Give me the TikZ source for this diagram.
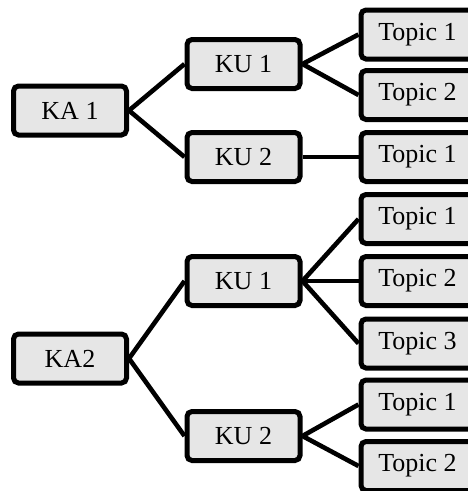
\documentclass[tikz,border=0pt]{standalone}
\usepackage{fontspec}
\setmainfont{Liberation Serif}
\definecolor{boxfill}{HTML}{E6E6E6}
\tikzset{
  box/.style={draw=black, fill=boxfill, line width=5pt, rounded corners=5pt,
    minimum width=113pt, minimum height=49pt, inner sep=0pt,
    font=\fontsize{26}{30}\selectfont},
  link/.style={line width=4.6pt}
}
\begin{document}
\begin{tikzpicture}[x=1pt,y=-1pt]
\useasboundingbox (0,0) rectangle (468,491);
\clip (0,0) rectangle (468,491);
% upper tree
\node[box] (ka1) at (70,110.5) {KA 1};
\node[box] (ku1a) at (243.5,64) {KU 1};
\node[box] (ku2a) at (243.5,157) {KU 2};
\node[box] (t1a) at (417.5,34.5) {Topic 1};
\node[box] (t2a) at (417.5,95) {Topic 2};
\node[box] (t1b) at (417.5,157) {Topic 1};
% lower tree
\node[box] (ka2) at (70,358.5) {KA2};
\node[box] (ku1b) at (243.5,281) {KU 1};
\node[box] (ku2b) at (243.5,436) {KU 2};
\node[box] (t1c) at (417.5,219) {Topic 1};
\node[box] (t2c) at (417.5,281) {Topic 2};
\node[box] (t3c) at (417.5,343.5) {Topic 3};
\node[box] (t1d) at (417.5,404.5) {Topic 1};
\node[box] (t2d) at (417.5,466) {Topic 2};
% connectors
\draw[link] (ka1.east) -- (ku1a.west);
\draw[link] (ka1.east) -- (ku2a.west);
\draw[link] (ku1a.east) -- (t1a.west);
\draw[link] (ku1a.east) -- (t2a.west);
\draw[link] (ku2a.east) -- (t1b.west);
\draw[link] (ka2.east) -- (ku1b.west);
\draw[link] (ka2.east) -- (ku2b.west);
\draw[link] (ku1b.east) -- (t1c.west);
\draw[link] (ku1b.east) -- (t2c.west);
\draw[link] (ku1b.east) -- (t3c.west);
\draw[link] (ku2b.east) -- (t1d.west);
\draw[link] (ku2b.east) -- (t2d.west);
\end{tikzpicture}
\end{document}
